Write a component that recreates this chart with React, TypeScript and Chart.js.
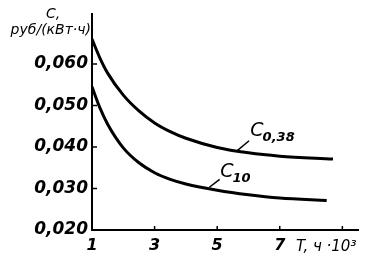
import { useEffect, useRef } from 'react';
import { Chart, registerables } from 'chart.js';

Chart.register(...registerables);

// Data
const T_C038 = [1, 1.25, 1.5, 2, 2.5, 3, 3.5, 4, 5, 6, 7, 8.7];
const C038 = [0.066, 0.0615, 0.0578, 0.0525, 0.0487, 0.0458, 0.0437, 0.0421, 0.0399, 0.0386, 0.0378, 0.0371];
const T_C10 = [1, 1.25, 1.5, 2, 2.5, 3, 3.5, 4, 5, 6, 7, 8.5];
const C10 = [0.0545, 0.0495, 0.0455, 0.0398, 0.0362, 0.0338, 0.0322, 0.0311, 0.0296, 0.0285, 0.0277, 0.0271];

const X_TICKS = [1, 3, 5, 7, 9];
const X_TICK_LABELS = ['1', '3', '5', '7', ''];
const Y_TICKS = [0.02, 0.03, 0.04, 0.05, 0.06];

const Y_TITLE_TOP = 'C,';
const Y_TITLE = 'руб/(кВт·ч)';
const X_TITLE = 'T, ч ·10³';

// curve labels: main letter, subscript, leader line from curve, label anchor (T, value)
const LABELS = [
  { main: 'C', sub: '0,38', from: [5.65, 0.0392], to: [6.02, 0.0415], at: [6.06, 0.0427] },
  { main: 'C', sub: '10', from: [4.75, 0.0303], to: [5.08, 0.0322], at: [5.1, 0.0327] },
];

const FONT = 'DejaVu Sans';

const overlay = {
  id: 'overlay',
  afterDraw(chart: any) {
    const ctx = chart.ctx;
    const xs = chart.scales.x;
    const ys = chart.scales.y;
    const area = chart.chartArea;
    ctx.save();
    ctx.strokeStyle = '#000';
    ctx.fillStyle = '#000';
    // inner tick marks
    ctx.lineWidth = 1.5;
    Y_TICKS.forEach((v) => {
      const py = ys.getPixelForValue(v);
      ctx.beginPath();
      ctx.moveTo(area.left, py);
      ctx.lineTo(area.left + 5, py);
      ctx.stroke();
    });
    X_TICKS.forEach((v) => {
      const px = xs.getPixelForValue(v);
      ctx.beginPath();
      ctx.moveTo(px, area.bottom);
      ctx.lineTo(px, area.bottom - 4);
      ctx.stroke();
    });
    // curve labels
    LABELS.forEach((l) => {
      ctx.lineWidth = 1.5;
      ctx.beginPath();
      ctx.moveTo(xs.getPixelForValue(l.from[0]), ys.getPixelForValue(l.from[1]));
      ctx.lineTo(xs.getPixelForValue(l.to[0]), ys.getPixelForValue(l.to[1]));
      ctx.stroke();
      const px = xs.getPixelForValue(l.at[0]);
      const py = ys.getPixelForValue(l.at[1]);
      ctx.textAlign = 'left';
      ctx.textBaseline = 'alphabetic';
      ctx.font = `italic 19px ${FONT}`;
      ctx.fillText(l.main, px, py);
      const w = ctx.measureText(l.main).width;
      ctx.font = `italic bold 13px ${FONT}`;
      ctx.fillText(l.sub, px + w - 1, py + 5);
    });
    // axis titles
    ctx.textBaseline = 'alphabetic';
    ctx.font = `italic 14px ${FONT}`;
    ctx.textAlign = 'left';
    ctx.fillText(Y_TITLE_TOP, 46, 18);
    ctx.textAlign = 'right';
    ctx.fillText(Y_TITLE, area.left - 1, 34);
    ctx.textAlign = 'left';
    ctx.font = `italic 15px ${FONT}`;
    ctx.fillText(X_TITLE, 296, 251);
    ctx.restore();
  },
};

export default function App() {
  const ref = useRef<HTMLCanvasElement | null>(null);
  useEffect(() => {
    if (!ref.current) return;
    const chart = new Chart(ref.current, {
      type: 'line',
      data: {
        datasets: [
          {
            label: 'C0,38',
            data: T_C038.map((t, i) => ({ x: t, y: C038[i] })),
            borderColor: '#000',
            borderWidth: 3,
            pointRadius: 0,
            cubicInterpolationMode: 'monotone',
            fill: false,
          },
          {
            label: 'C10',
            data: T_C10.map((t, i) => ({ x: t, y: C10[i] })),
            borderColor: '#000',
            borderWidth: 3,
            pointRadius: 0,
            cubicInterpolationMode: 'monotone',
            fill: false,
          },
        ],
      },
      options: {
        responsive: false,
        animation: false,
        layout: { padding: { top: 5, right: 8, left: 0, bottom: 0 } },
        plugins: { legend: { display: false }, tooltip: { enabled: false } },
        scales: {
          x: {
            type: 'linear',
            min: 1,
            max: 9.5,
            afterBuildTicks: (s: any) => {
              s.ticks = X_TICKS.map((v) => ({ value: v }));
            },
            afterFit: (s: any) => {
              s.height = 30;
            },
            grid: { display: false, drawTicks: false },
            border: { display: true, color: '#000', width: 2 },
            ticks: {
              color: '#000',
              padding: 6,
              maxRotation: 0,
              autoSkip: false,
              font: { family: FONT, size: 16, style: 'italic', weight: 'bold' },
              callback: (v: any) => X_TICK_LABELS[X_TICKS.indexOf(Number(v))] ?? '',
            },
          },
          y: {
            type: 'linear',
            min: 0.02,
            max: 0.072,
            afterBuildTicks: (s: any) => {
              s.ticks = Y_TICKS.map((v) => ({ value: v }));
            },
            afterFit: (s: any) => {
              s.width = 92;
            },
            grid: { display: false, drawTicks: false },
            border: { display: true, color: '#000', width: 2 },
            ticks: {
              color: '#000',
              padding: 4,
              autoSkip: false,
              font: { family: FONT, size: 17, style: 'italic', weight: 'bold' },
              callback: (v: any) => Number(v).toFixed(3).replace('.', ','),
            },
          },
        },
      },
      plugins: [overlay],
    } as any);
    return () => chart.destroy();
  }, []);
  return (
    <div style={{ position: 'fixed', left: 0, top: 0, width: 366, height: 260, background: '#fff' }}>
      <canvas ref={ref} width={366} height={260} style={{ display: 'block' }} />
    </div>
  );
}
